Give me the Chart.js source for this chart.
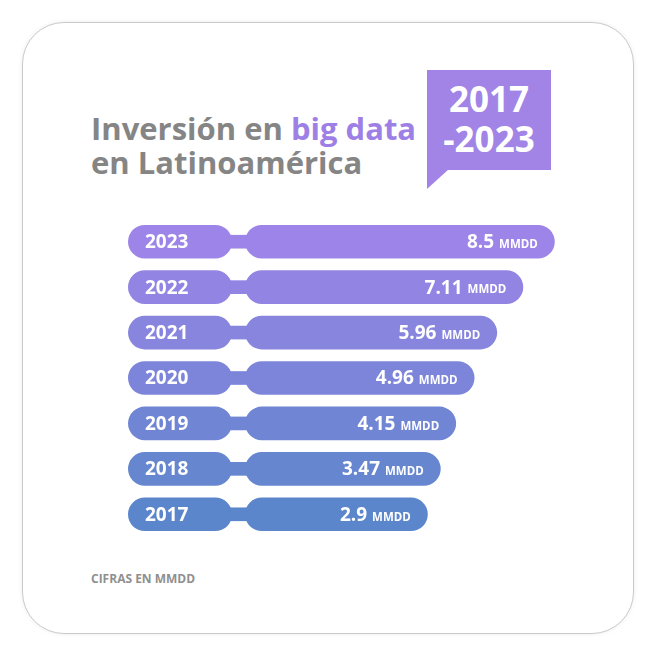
<!DOCTYPE html>
<html><head><meta charset="utf-8">
<script src="https://cdn.jsdelivr.net/npm/chart.js@4"></script>
<style>
body{margin:0;width:656px;height:655px;background:#fff;font-family:"Open Sans",sans-serif;position:relative;overflow:hidden}
.card{position:absolute;left:22px;top:22px;width:610px;height:610px;border:1.5px solid #c9c9c9;border-radius:42px;box-shadow:0 0 4px rgba(0,0,0,.08)}
.title{position:absolute;left:91px;top:111px;font-weight:700;font-size:31px;line-height:34px;color:#858585;letter-spacing:0px}
.title span{color:#9d7fe6}
.callout{position:absolute;left:427px;top:70px;width:124px;height:100px;background:#a184e6;color:#fff;font-weight:700;font-size:35px;line-height:40px;text-align:center;padding-top:9px;box-sizing:border-box}
.tail{position:absolute;left:427px;top:169px;width:0;height:0;border-top:20px solid #a184e6;border-right:22px solid transparent}
.foot{position:absolute;left:91px;top:570px;font-weight:700;font-size:12px;color:#8f8f8f}
#wrap{position:absolute;left:128px;top:219px;width:432px;height:318px}
</style></head><body>
<div class="card"></div>
<div class="title">Inversión en <span>big data</span><br>en Latinoamérica</div>
<div class="callout">2017<br>-2023</div>
<div class="tail"></div>
<div class="foot">CIFRAS EN MMDD</div>
<div id="wrap"><canvas id="c"></canvas></div>
<script>
const years = ["2023","2022","2021","2020","2019","2018","2017"];
const values = [8.5, 7.11, 5.96, 4.96, 4.15, 3.47, 2.9];
const unitLabel = "MMDD";

const PILL = [-10.32, -5.73], NECK = [-5.85, -5.05], BAR0 = -5.16;
const colTop = [157,132,232], colBot = [91,134,203];
const cols = years.map((_, i) => {
  const t = i / (years.length - 1);
  return `rgb(${colTop.map((c, k) => Math.round(c + (colBot[k] - c) * t)).join(",")})`;
});
const labelsPlugin = {
  id: "lbl",
  afterDatasetsDraw(chart) {
    const ctx = chart.ctx, x = chart.scales.x, y = chart.scales.y;
    ctx.save(); ctx.fillStyle = "#fff"; ctx.textBaseline = "middle";
    years.forEach((yr, i) => {
      const yc = y.getPixelForValue(i) + 1;
      ctx.font = "700 19px 'Open Sans'"; ctx.textAlign = "left";
      ctx.fillText(yr, x.getPixelForValue(PILL[0]) + 17, yc);
      const xe = x.getPixelForValue(values[i]) - 17;
      ctx.font = "700 11.5px 'Open Sans'"; ctx.textAlign = "right";
      ctx.fillText(unitLabel, xe, yc + 2);
      const w = ctx.measureText(unitLabel).width;
      ctx.font = "700 19px 'Open Sans'";
      ctx.fillText(String(values[i]), xe - w - 5, yc);
    });
    ctx.restore();
  }
};
new Chart(document.getElementById("c"), {
  type: "bar",
  data: {
    labels: years,
    datasets: [
      { data: years.map(() => NECK), backgroundColor: cols, barThickness: 13, grouped: false, borderSkipped: false },
      { data: years.map(() => PILL), backgroundColor: cols, borderRadius: 17, borderSkipped: false, grouped: false, barPercentage: 0.74, categoryPercentage: 1 },
      { data: values.map(v => [BAR0, v]), backgroundColor: cols, borderRadius: 17, borderSkipped: false, grouped: false, barPercentage: 0.74, categoryPercentage: 1 }
    ]
  },
  options: {
    indexAxis: "y", responsive: true, maintainAspectRatio: false, animation: false,
    layout: { padding: 0 },
    plugins: { legend: { display: false }, tooltip: { enabled: false } },
    scales: {
      x: { display: false, min: -10.32, max: 8.73 },
      y: { display: false }
    }
  },
  plugins: [labelsPlugin]
});
</script>
</body></html>
